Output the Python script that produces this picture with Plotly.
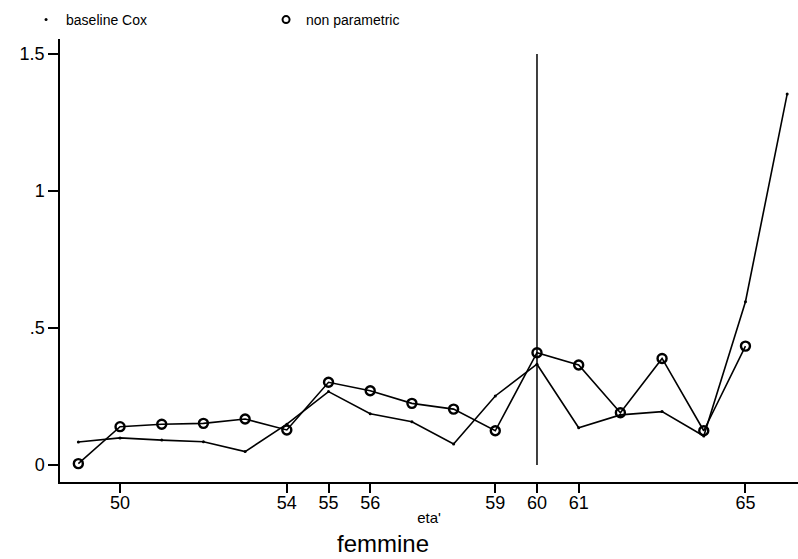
import plotly.graph_objects as go

ages = [49, 50, 51, 52, 53, 54, 55, 56, 57, 58, 59, 60, 61, 62, 63, 64, 65, 66]
baseline_cox = [0.084, 0.099, 0.091, 0.085, 0.049, 0.149, 0.268, 0.187, 0.158, 0.077,
                0.252, 0.368, 0.136, 0.183, 0.195, 0.106, 0.596, 1.354]
np_ages = [49, 50, 51, 52, 53, 54, 55, 56, 57, 58, 59, 60, 61, 62, 63, 64, 65]
non_parametric = [0.005, 0.140, 0.149, 0.152, 0.168, 0.128, 0.302, 0.271, 0.225, 0.204,
                  0.125, 0.410, 0.365, 0.191, 0.389, 0.125, 0.434]
vline_x = [60, 60]
vline_y = [0, 1.5]
x_ticks = [50, 54, 55, 56, 59, 60, 61, 65]
y_ticks = [0, 0.5, 1, 1.5]
y_tick_labels = ["0", ".5", "1", "1.5"]

FONT = "Liberation Sans, Arial, sans-serif"

fig = go.Figure()
fig.add_trace(go.Scatter(x=ages, y=baseline_cox, mode="lines+markers",
                         line=dict(color="black", width=1.6),
                         marker=dict(symbol="circle", size=3, color="black"),
                         showlegend=False))
fig.add_trace(go.Scatter(x=np_ages, y=non_parametric, mode="lines+markers",
                         line=dict(color="black", width=1.6),
                         marker=dict(symbol="circle-open", size=9, color="black",
                                     line=dict(width=2.4, color="black")),
                         showlegend=False))
fig.add_trace(go.Scatter(x=vline_x, y=vline_y, mode="lines",
                         line=dict(color="black", width=1.5), showlegend=False))
# legend entries (marker only)
fig.add_trace(go.Scatter(x=[None], y=[None], mode="markers", name="baseline Cox",
                         marker=dict(symbol="circle", size=3, color="black")))
fig.add_trace(go.Scatter(x=[None], y=[None], mode="markers", name="non parametric",
                         marker=dict(symbol="circle-open", size=7, color="black",
                                     line=dict(width=2, color="black"))))

fig.update_layout(
    width=798, height=559,
    margin=dict(l=60, r=0, t=39, b=77),
    paper_bgcolor="white", plot_bgcolor="white",
    font=dict(family=FONT, color="black", size=16),
    legend=dict(orientation="h", x=-0.046, y=1.0 + 3 / 443, xanchor="left", yanchor="bottom",
                entrywidth=195, entrywidthmode="pixels",
                font=dict(size=14, family=FONT), itemwidth=30,
                bgcolor="rgba(0,0,0,0)"),
    xaxis=dict(range=[48.56, 66.26], tickvals=x_ticks, ticks="outside", ticklen=9,
               tickwidth=1.5, tickcolor="black", showgrid=False, zeroline=False,
               showline=True, linecolor="black", linewidth=1.5,
               tickfont=dict(size=18, family=FONT), ticklabelstandoff=-5,
               title=dict(text="eta'", font=dict(size=15, family=FONT), standoff=0)),
    yaxis=dict(range=[-0.062, 1.555], tickvals=y_ticks, ticktext=y_tick_labels,
               ticks="outside", ticklen=10, tickwidth=1.5, tickcolor="black",
               showgrid=False, zeroline=False, showline=True, linecolor="black",
               linewidth=1.5, tickfont=dict(size=18, family=FONT)),
    annotations=[dict(text="femmine", xref="paper", yref="paper", x=(383 - 60) / 738,
                      y=-(543 - 482) / 443, xanchor="center", yanchor="middle",
                      showarrow=False, font=dict(size=24, family=FONT))],
)

fig.write_html("out.html")
